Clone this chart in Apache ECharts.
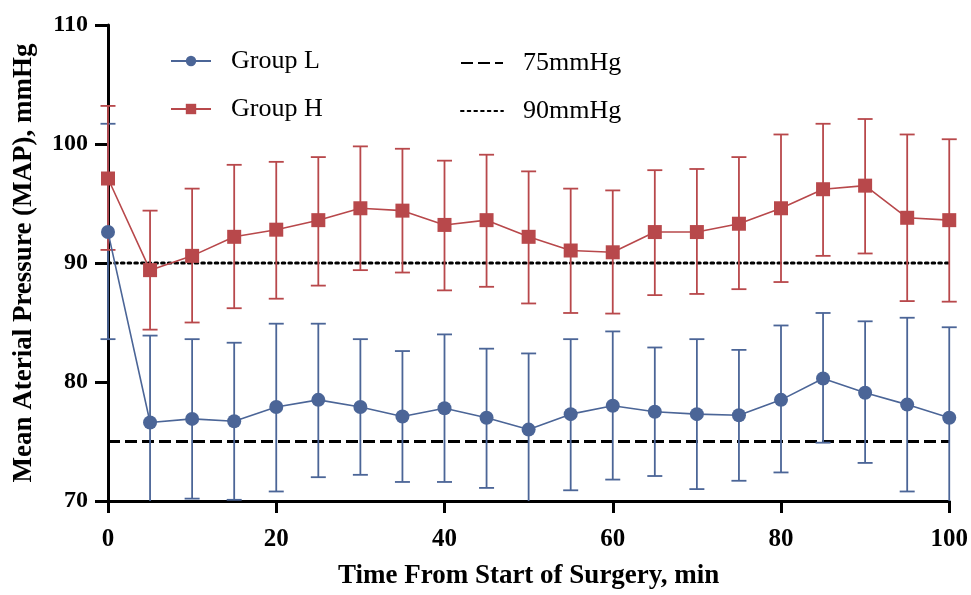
<!DOCTYPE html>
<html>
<head>
<meta charset="utf-8">
<script src="https://cdn.jsdelivr.net/npm/echarts@6/dist/echarts.min.js"></script>
<style>
html,body{margin:0;padding:0;background:#fff;}
#chart{width:971px;height:595px;}
</style>
</head>
<body>
<div id="chart"></div>
<script>
const times = [0,5,10,15,20,25,30,35,40,45,50,55,60,65,70,75,80,85,90,95,100];

const groupLMean  = [92.6,76.6,76.9,76.7,77.9,78.5,77.9,77.1,77.8,77.0,76.0,77.3,78.0,77.5,77.3,77.2,78.5,80.3,79.1,78.1,77.0];
const groupLUpper = [101.7,83.9,83.6,83.3,84.9,84.9,83.6,82.6,84.0,82.8,82.4,83.6,84.25,82.9,83.6,82.7,84.75,85.8,85.1,85.4,84.6];
const groupLLower = [83.6,69.3,70.2,70.1,70.8,72.0,72.2,71.6,71.6,71.1,69.6,70.9,71.8,72.1,71.0,71.7,72.4,74.9,73.2,70.8,69.4];

const groupHMean  = [97.1,89.4,90.6,92.2,92.8,93.6,94.6,94.4,93.2,93.6,92.2,91.05,90.9,92.6,92.6,93.3,94.6,96.2,96.5,93.8,93.6];
const groupHUpper = [103.2,94.4,96.25,98.25,98.5,98.9,99.8,99.6,98.6,99.1,97.7,96.25,96.1,97.8,97.9,98.9,100.8,101.7,102.1,100.8,100.4];
const groupHLower = [91.1,84.4,85.0,86.2,87.0,88.1,89.4,89.2,87.7,88.0,86.6,85.8,85.75,87.3,87.4,87.8,88.4,90.6,90.8,86.8,86.75];

const refLow = 75;
const refHigh = 90;
const xTicks = [0,20,40,60,80,100];
const yTicks = [70,80,90,100,110];

const BLUE = '#4b6597';
const RED = '#b8484b';
const FONT = 'Liberation Serif';

function pairs(xs, ys){ return xs.map((x,i)=>[x, ys[i]]); }
function errData(xs, up, lo){ return xs.map((x,i)=>[x, up[i], lo[i]]); }

function errRender(color){
  return function(params, api){
    const x = api.value(0), hi = api.value(1), lo = api.value(2);
    const yMin = yTicks[0];
    const top = api.coord([x, hi]);
    const bot = api.coord([x, Math.max(lo, yMin)]);
    const hw = 7.5;
    const st = {stroke:color, lineWidth:1.8};
    const children = [
      {type:'line', shape:{x1:top[0],y1:top[1],x2:bot[0],y2:bot[1]}, style:st},
      {type:'line', shape:{x1:top[0]-hw,y1:top[1],x2:top[0]+hw,y2:top[1]}, style:st}
    ];
    if (lo >= yMin) {
      children.push({type:'line', shape:{x1:bot[0]-hw,y1:bot[1],x2:bot[0]+hw,y2:bot[1]}, style:st});
    }
    return {type:'group', children};
  };
}

const chart = echarts.init(document.getElementById('chart'), null, {renderer:'canvas'});
const legendText = {fontFamily:FONT, fontSize:26, color:'#000', lineHeight:30, padding:[0,0,0,15]};
chart.setOption({
  animation:false,
  backgroundColor:'#fff',
  grid:{left:108, right:21, top:25, bottom:88, containLabel:false},
  legend:[
    {orient:'vertical', left:165, top:41, itemWidth:40, itemHeight:13, itemGap:18,
     data:['Group L','Group H'], textStyle:legendText},
    {orient:'vertical', left:455, top:43, itemWidth:42, itemHeight:13, itemGap:18,
     data:[{name:'75mmHg', itemStyle:{opacity:0}}, {name:'90mmHg', itemStyle:{opacity:0}}],
     textStyle:legendText}
  ],
  xAxis:{
    type:'value', min:0, max:100, interval:20,
    name:'Time From Start of Surgery, min', nameLocation:'middle', nameGap:62,
    nameTextStyle:{fontFamily:FONT, fontWeight:'bold', fontSize:27, color:'#000'},
    axisLine:{show:true, onZero:false, lineStyle:{color:'#000', width:3}},
    axisTick:{show:true, length:12, lineStyle:{color:'#000', width:3}},
    axisLabel:{fontFamily:FONT, fontWeight:'bold', fontSize:25, color:'#000', margin:26},
    splitLine:{show:false}
  },
  yAxis:{
    type:'value', min:70, max:110, interval:10,
    name:'Mean Aterial Pressure (MAP), mmHg', nameLocation:'middle', nameGap:70, nameRotate:90,
    nameTextStyle:{fontFamily:FONT, fontWeight:'bold', fontSize:27, color:'#000'},
    axisLine:{show:true, onZero:false, lineStyle:{color:'#000', width:3}},
    axisTick:{show:true, length:13, lineStyle:{color:'#000', width:3}},
    axisLabel:{fontFamily:FONT, fontWeight:'bold', fontSize:24, color:'#000', margin:20},
    splitLine:{show:false}
  },
  series:[
    {name:'75mmHg', type:'line', data:[[0,refLow],[100,refLow]], symbol:'none', silent:true,
     lineStyle:{color:'#000', width:3, type:[12,5]}, itemStyle:{color:'#000'}, z:1},
    {name:'90mmHg', type:'line', data:[[0,refHigh],[100,refHigh]], symbol:'none', silent:true,
     lineStyle:{color:'#000', width:3, type:[2.6,4.1], cap:'round'}, itemStyle:{color:'#000'}, z:1},
    {name:'errL', type:'custom', data:errData(times, groupLUpper, groupLLower),
     renderItem:errRender(BLUE), encode:{x:0, y:[1,2]}, z:2, silent:true},
    {name:'errH', type:'custom', data:errData(times, groupHUpper, groupHLower),
     renderItem:errRender(RED), encode:{x:0, y:[1,2]}, z:2, silent:true},
    {name:'Group L', type:'line', data:pairs(times, groupLMean), symbol:'circle', symbolSize:14,
     lineStyle:{color:BLUE, width:1.6}, itemStyle:{color:BLUE}, z:3},
    {name:'Group H', type:'line', data:pairs(times, groupHMean), symbol:'rect', symbolSize:14,
     lineStyle:{color:RED, width:1.6}, itemStyle:{color:RED}, z:3}
  ]
});
</script>
</body>
</html>
